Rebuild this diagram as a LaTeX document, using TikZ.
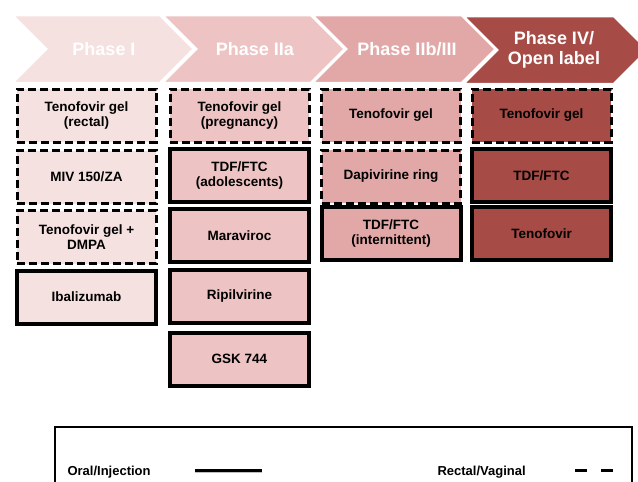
\documentclass[tikz,border=0pt]{standalone}
\usepackage{fontspec}
\setmainfont{Liberation Sans}
\usepackage{tikz}
\usetikzlibrary{positioning}
\definecolor{phaseone}{HTML}{F6E1E1}
\definecolor{phasetwo}{HTML}{EDC4C3}
\definecolor{phasethree}{HTML}{E2A8A7}
\definecolor{phasefour}{HTML}{A64B46}
\tikzset{
  phaselabel/.style={text=white, font=\fontsize{18}{19}\selectfont\bfseries, align=center},
  trialbox/.style={minimum width=139pt, minimum height=53pt, inner sep=2pt, align=center,
    font=\fontsize{13.5}{15}\selectfont\bfseries, draw=black},
  solidbox/.style={trialbox, line width=4pt},
  dashbox/.style={trialbox, line width=3pt, dash pattern=on 8pt off 4pt},
  legendtext/.style={anchor=west, font=\fontsize{13}{14}\selectfont\bfseries}
}

\begin{document}
\begin{tikzpicture}[x=1pt,y=-1pt]
\useasboundingbox (0,0) rectangle (638,482);

\filldraw[fill=phaseone, draw=white, line width=2.5pt] (12,15) -- (160,15) -- (194,49) -- (160,83) -- (12,83) -- (46,49) -- cycle;
\filldraw[fill=phasetwo, draw=white, line width=2.5pt] (162,15) -- (311,15) -- (345,49) -- (311,83) -- (162,83) -- (196,49) -- cycle;
\filldraw[fill=phasethree, draw=white, line width=2.5pt] (312,15) -- (462,15) -- (496,49) -- (462,83) -- (312,83) -- (346,49) -- cycle;
\filldraw[fill=phasefour, draw=white, line width=2.5pt] (463,16) -- (614,16) -- (648,50) -- (614,84) -- (463,84) -- (497,50) -- cycle;
\node[phaselabel] (phI) at (104,49) {Phase I};
\node[phaselabel] (phIIa) at (255,49) {Phase IIa};
\node[phaselabel] (phIIb) at (407,49) {Phase IIb/III};
\node[phaselabel, font=\fontsize{18}{20}\selectfont\bfseries] (phIV) at (554,50) {Phase IV/\\Open label};

\node[dashbox, fill=phaseone] (tenorectal) at (86.5,115.5) {Tenofovir gel\\(rectal)};
\node[dashbox, fill=phaseone] (miv) at (86.5,177) {MIV 150/ZA};
\node[dashbox, fill=phaseone] (tenodmpa) at (86.5,237) {Tenofovir gel +\\DMPA};
\node[solidbox, fill=phaseone] (ibali) at (86.5,297) {Ibalizumab};

\node[dashbox, fill=phasetwo] (tenopreg) at (239.5,115.5) {Tenofovir gel\\(pregnancy)};
\node[solidbox, fill=phasetwo] (tdfadol) at (239.5,175.5) {TDF/FTC\\(adolescents)};
\node[solidbox, fill=phasetwo] (maravi) at (239.5,235.5) {Maraviroc};
\node[solidbox, fill=phasetwo] (ripil) at (239.5,296.5) {Ripilvirine};
\node[solidbox, fill=phasetwo] (gsk) at (239.5,359) {GSK 744};

\node[dashbox, fill=phasethree] (tenogel) at (391,115.5) {Tenofovir gel};
\node[dashbox, fill=phasethree] (dapiv) at (391,176.5) {Dapivirine ring};
\node[solidbox, fill=phasethree] (tdfint) at (391,233.5) {TDF/FTC\\(internittent)};

\node[dashbox, fill=phasefour] (tenogelopen) at (541.5,115.5) {Tenofovir gel};
\node[solidbox, fill=phasefour] (tdfopen) at (541.5,175.5) {TDF/FTC};
\node[solidbox, fill=phasefour] (tenoopen) at (541.5,233.5) {Tenofovir};

\draw[line width=1.5pt] (55,427) rectangle (632,500);
\node[legendtext] (oral) at (64,472) {Oral/Injection};
\node[legendtext] (rectal) at (434,472) {Rectal/Vaginal};
\coordinate (solidA) at (195,470);
\coordinate (solidB) at (262,470);
\coordinate (dashA) at (575,470);
\coordinate (dashB) at (613,470);
\draw[line width=3pt, gray!50] ([yshift=-1.5pt]solidA) -- ([yshift=-1.5pt]solidB);
\draw[line width=3pt] (solidA) -- (solidB);
\draw[line width=3pt, dash pattern=on 12pt off 14pt] (dashA) -- (dashB);
\end{tikzpicture}
\end{document}
